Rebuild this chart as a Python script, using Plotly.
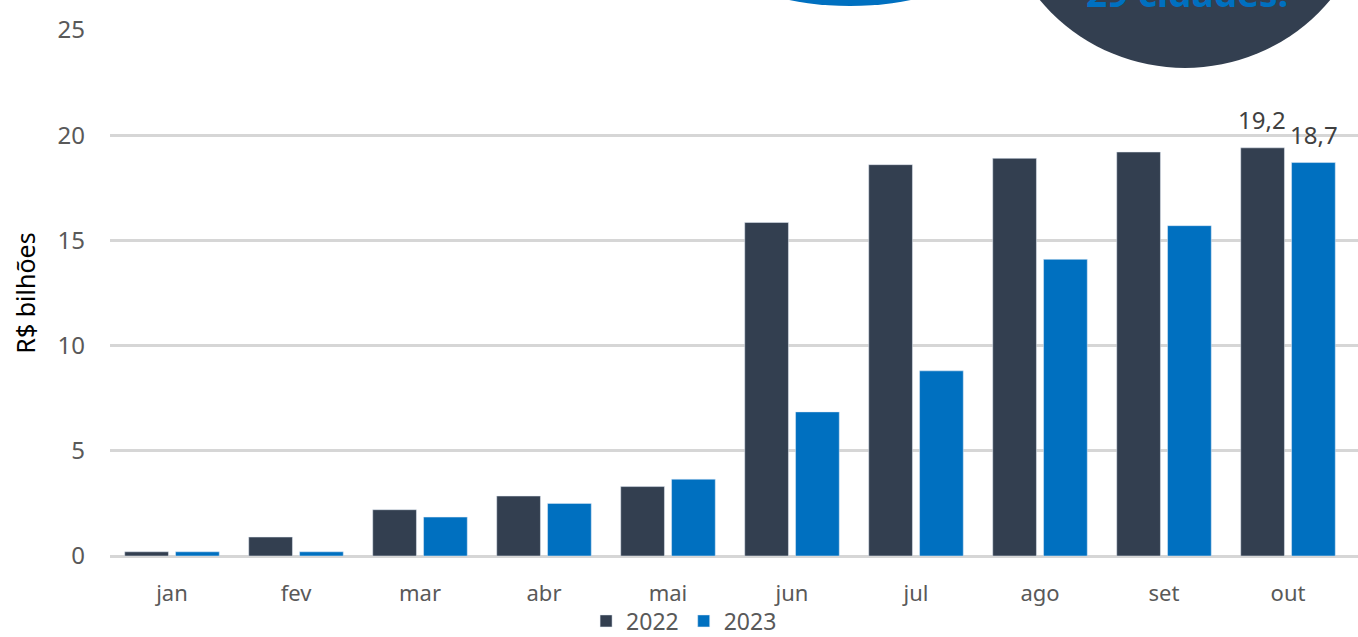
import plotly.graph_objects as go

months = ["jan", "fev", "mar", "abr", "mai", "jun", "jul", "ago", "set", "out"]
v2022 = [0.2, 0.9, 2.2, 2.85, 3.3, 15.85, 18.6, 18.9, 19.2, 19.4]
v2023 = [0.2, 0.2, 1.85, 2.5, 3.65, 6.85, 8.8, 14.1, 15.7, 18.7]
lab2022 = ["", "", "", "", "", "", "", "", "", "19,2"]
lab2023 = ["", "", "", "", "", "", "", "", "", "18,7"]
yticks = [0, 5, 10, 15, 20, 25]

W, H = 1358, 637
L, R, T, B = 110, 0, 30, 81
pw, ph = W - L - R, H - T - B


def px(x):
    return (x - L) / pw


def py(y):
    return (H - B - y) / ph


font = "Noto Sans"
fig = go.Figure()
fig.add_trace(go.Bar(name="2022", x=months, y=v2022, marker_color="#333f50"))
fig.add_trace(go.Bar(name="2023", x=months, y=v2023, marker_color="#0070c0"))

# data labels above the last bars
for labs, vals, shift in [(lab2022, v2022, -26), (lab2023, v2023, 26)]:
    for m, v, t in zip(months, vals, labs):
        if t:
            fig.add_annotation(x=m, y=v, text=t, showarrow=False, xshift=shift,
                               yanchor="bottom", yshift=10,
                               font=dict(size=24, color="#404040", family=font))

fig.update_layout(
    width=W, height=H,
    margin=dict(l=L, r=R, t=T, b=B, autoexpand=False),
    paper_bgcolor="white", plot_bgcolor="white",
    barmode="group", bargap=0.18, bargroupgap=0.14,
    font=dict(family=font, color="#595959", size=23),
    showlegend=True,
    legend=dict(orientation="h", x=0.46, xanchor="center", y=py(621), yanchor="middle",
                bgcolor="rgba(0,0,0,0)",
                font=dict(size=23, color="#595959"), itemwidth=30, traceorder="normal"),
    xaxis=dict(range=[-0.5, 9.5 + 8 / 124], showgrid=False, showline=False,
               tickfont=dict(size=22, color="#595959"), ticks="", ticklabelstandoff=22),
    yaxis=dict(range=[0, 25], tickvals=yticks, showgrid=True, gridcolor="#d6d6d6",
               gridwidth=2.5, zeroline=True, zerolinecolor="#d6d6d6", zerolinewidth=2.5,
               tickfont=dict(size=24, color="#595959"), ticks="", ticklabelstandoff=24,
               title=dict(text="R$ bilhões", font=dict(size=25, color="#000000"), standoff=14)),
)

# decorative callouts at the top
fig.add_shape(type="circle", xref="paper", yref="paper",
              x0=px(850 - 110), x1=px(850 + 110), y0=py(6), y1=py(-66),
              fillcolor="#0070c0", line=dict(width=0))
fig.add_shape(type="circle", xref="paper", yref="paper",
              x0=px(1185 - 189), x1=px(1185 + 189), y0=py(68), y1=py(-310),
              fillcolor="#333f50", line=dict(width=0))
fig.add_annotation(text="<b>29 cidades!</b>", xref="paper", yref="paper",
                   x=px(1187), y=py(20), xanchor="center", yanchor="bottom",
                   showarrow=False, font=dict(size=37, color="#0070c0", family=font))

fig.write_html("out.html")
